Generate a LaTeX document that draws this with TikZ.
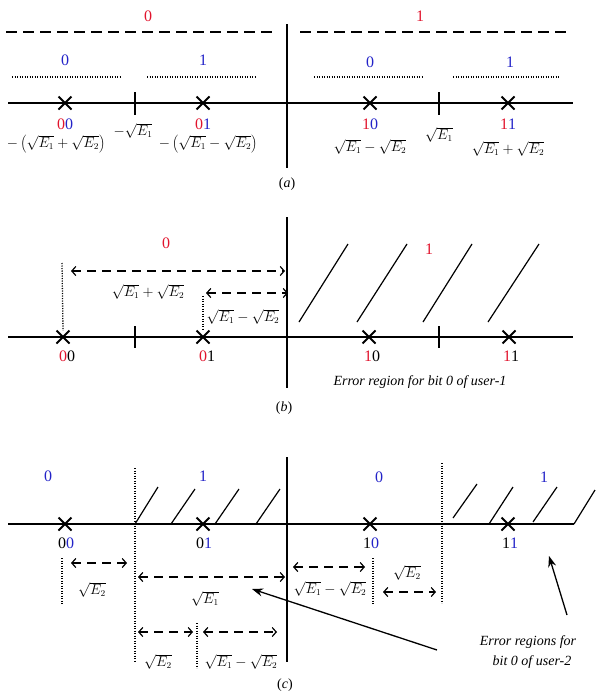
\documentclass[tikz,border=0pt]{standalone}
\usepackage{fontspec}
\setmainfont{Liberation Serif}
\usetikzlibrary{arrows.meta,shapes.misc}
\definecolor{cred}{RGB}{225,20,45}
\definecolor{cblue}{RGB}{35,35,200}
\begin{document}
\begin{tikzpicture}[x=1pt,y=-1pt,
 axis/.style={line width=1.8pt},
 tickl/.style={line width=1.3pt},
 xm/.style={draw,cross out,minimum size=11pt,inner sep=0pt,line width=2pt},
 dline/.style={line width=1.4pt,dash pattern=on 11pt off 6pt},
 dotl/.style={line width=1.3pt,dash pattern=on 1.2pt off 1.3pt},
 darr/.style={line width=1.2pt,dash pattern=on 9pt off 6pt,{Straight Barb[length=4pt,width=9pt]}-{Straight Barb[length=4pt,width=9pt]}},
 hatch/.style={line width=1.2pt},
 bit/.style={font=\fontsize{16}{18}\selectfont,inner sep=0pt},
 lab/.style={font=\fontsize{13.5}{15}\selectfont,inner sep=0pt},
 captxt/.style={font=\fontsize{14}{16}\selectfont\itshape,inner sep=0pt},
 panlab/.style={font=\fontsize{14}{16}\selectfont,inner sep=0pt},
 parr/.style={line width=1.3pt,-{Stealth[length=11pt,width=8pt]}}
]
\useasboundingbox (0,0) rectangle (595,696);
% ================= (a) =================
\node[bit,text=cred] (a0) at (148,16) {0};
\node[bit,text=cred] (a1) at (420,16) {1};
\draw[dline] (6,32) -- (272,32);
\draw[dline] (300,32) -- (566,32);
\node[bit,text=cblue] (ab00) at (65,60) {0};
\node[bit,text=cblue] (ab01) at (203,60) {1};
\node[bit,text=cblue] (ab10) at (370,62) {0};
\node[bit,text=cblue] (ab11) at (510,62) {1};
\draw[dotl] (12,77) -- (120,77);
\draw[dotl] (147,77) -- (255,77);
\draw[dotl] (314,77) -- (422,77);
\draw[dotl] (453,77) -- (560,77);
\draw[axis] (8,103) -- (573,103);
\draw[axis] (287,24) -- (287,168);
\draw[tickl] (135,92) -- (135,115);
\draw[tickl] (439,92) -- (439,115);
\node[xm] (ax00) at (65,103) {};
\node[xm] (ax01) at (203,103) {};
\node[xm] (ax10) at (370,103) {};
\node[xm] (ax11) at (508,103) {};
\node[bit] (al00) at (65,124) {\textcolor{cred}{0}\textcolor{cblue}{0}};
\node[bit] (al01) at (203,124) {\textcolor{cred}{0}\textcolor{cblue}{1}};
\node[bit] (al10) at (370,124) {\textcolor{cred}{1}\textcolor{cblue}{0}};
\node[bit] (al11) at (508,124) {\textcolor{cred}{1}\textcolor{cblue}{1}};
\node[lab] (av00) at (56,144) {$-\left(\sqrt{E_1}+\sqrt{E_2}\right)$};
\node[lab] (avm) at (133,131) {$-\sqrt{E_1}$};
\node[lab] (av01) at (208,144) {$-\left(\sqrt{E_1}-\sqrt{E_2}\right)$};
\node[lab] (av10) at (370,147) {$\sqrt{E_1}-\sqrt{E_2}$};
\node[lab] (avp) at (439,135) {$\sqrt{E_1}$};
\node[lab] (av11) at (508,149) {$\sqrt{E_1}+\sqrt{E_2}$};
\node[panlab] (capa) at (287,184) {(\textit{a})};
% ================= (b) =================
\node[bit,text=cred] (b0) at (166,243) {0};
\node[bit,text=cred] (b1) at (429,249) {1};
\draw[axis] (8,337) -- (573,337);
\draw[axis] (287,217) -- (287,388);
\draw[tickl] (135,326) -- (135,348);
\draw[tickl] (439,326) -- (439,348);
\node[xm] (bx00) at (63,337) {};
\node[xm] (bx01) at (203,337) {};
\node[xm] (bx10) at (369,337) {};
\node[xm] (bx11) at (509,337) {};
\coordinate (bd1) at (62,263);
\coordinate (bd2) at (203,296);
\draw[dotl] (bd1) -- (bx00.north);
\draw[dotl] (bd2) -- (bx01.north);
\coordinate (ba1l) at (71,271);
\coordinate (ba1r) at (285,271);
\coordinate (ba2l) at (206,293);
\coordinate (ba2r) at (288,293);
\draw[darr] (ba1l) -- (ba1r);
\draw[darr] (ba2l) -- (ba2r);
\node[lab] (bv1) at (148,292) {$\sqrt{E_1}+\sqrt{E_2}$};
\node[lab] (bv2) at (243,317) {$\sqrt{E_1}-\sqrt{E_2}$};
\draw[hatch] (299,322) -- (348,244);
\draw[hatch] (357,322) -- (407,244);
\draw[hatch] (423,322) -- (472,244);
\draw[hatch] (488,322) -- (539,244);
\node[bit] (bl00) at (67,356) {\textcolor{cred}{0}0};
\node[bit] (bl01) at (207,356) {\textcolor{cred}{0}1};
\node[bit] (bl10) at (372,356) {\textcolor{cred}{1}0};
\node[bit] (bl11) at (511,356) {\textcolor{cred}{1}1};
\node[captxt] (bt) at (420,382) {Error region for bit 0 of user-1};
\node[panlab] (capb) at (284,408) {(\textit{b})};
% ================= (c) =================
\node[bit,text=cblue] (c0) at (48,476) {0};
\node[bit,text=cblue] (c1) at (203,476) {1};
\node[bit,text=cblue] (c2) at (379,477) {0};
\node[bit,text=cblue] (c3) at (544,477) {1};
\draw[axis] (8,524) -- (574,524);
\draw[axis] (287,457) -- (287,662);
\draw[dotl] (135,468) -- (135,661);
\draw[dotl] (442,463) -- (442,603);
\draw[hatch] (135,524) -- (158,487);
\draw[hatch] (171,524) -- (195,489);
\draw[hatch] (215,524) -- (239,489);
\draw[hatch] (256,524) -- (280,489);
\draw[hatch] (453,518) -- (477,484);
\draw[hatch] (489,524) -- (513,487);
\draw[hatch] (533,522) -- (557,487);
\draw[hatch] (574,524) -- (595,490);
\node[xm] (cx00) at (65,524) {};
\node[xm] (cx01) at (203,524) {};
\node[xm] (cx10) at (370,524) {};
\node[xm] (cx11) at (508,524) {};
\node[bit] (cl00) at (66,543) {0\textcolor{cblue}{0}};
\node[bit] (cl01) at (204,543) {0\textcolor{cblue}{1}};
\node[bit] (cl10) at (371,543) {1\textcolor{cblue}{0}};
\node[bit] (cl11) at (510,543) {1\textcolor{cblue}{1}};
\draw[dotl] (62,558) -- (62,604);
\draw[dotl] (197,623) -- (197,668);
\draw[dotl] (373,558) -- (373,605);
\coordinate (c1l) at (71,563);
\coordinate (c1r) at (127,563);
\coordinate (c2l) at (138,577);
\coordinate (c2r) at (285,577);
\coordinate (c3l) at (138,632);
\coordinate (c3r) at (193,632);
\coordinate (c4l) at (203,632);
\coordinate (c4r) at (277,632);
\coordinate (c5l) at (293,567);
\coordinate (c5r) at (365,567);
\coordinate (c6l) at (383,592);
\coordinate (c6r) at (436,592);
\draw[darr] (c1l) -- (c1r);
\draw[darr] (c2l) -- (c2r);
\draw[darr] (c3l) -- (c3r);
\draw[darr] (c4l) -- (c4r);
\draw[darr] (c5l) -- (c5r);
\draw[darr] (c6l) -- (c6r);
\node[lab] (cv1) at (92,590) {$\sqrt{E_2}$};
\node[lab] (cv2) at (205,599) {$\sqrt{E_1}$};
\node[lab] (cv3) at (158,662) {$\sqrt{E_2}$};
\node[lab] (cv4) at (241,662) {$\sqrt{E_1}-\sqrt{E_2}$};
\node[lab] (cv5) at (330,589) {$\sqrt{E_1}-\sqrt{E_2}$};
\node[lab] (cv6) at (407,573) {$\sqrt{E_2}$};
\coordinate (pa1t) at (437,650);
\coordinate (pa1h) at (252,589);
\coordinate (pa2t) at (567,615);
\coordinate (pa2h) at (549,556);
\draw[parr] (pa1t) -- (pa1h);
\draw[parr] (pa2t) -- (pa2h);
\node[captxt] (ct1) at (528,642) {Error regions for};
\node[captxt] (ct2) at (532,662) {bit 0 of user-2};
\node[panlab] (capc) at (285,685) {(\textit{c})};
\end{tikzpicture}
\end{document}
